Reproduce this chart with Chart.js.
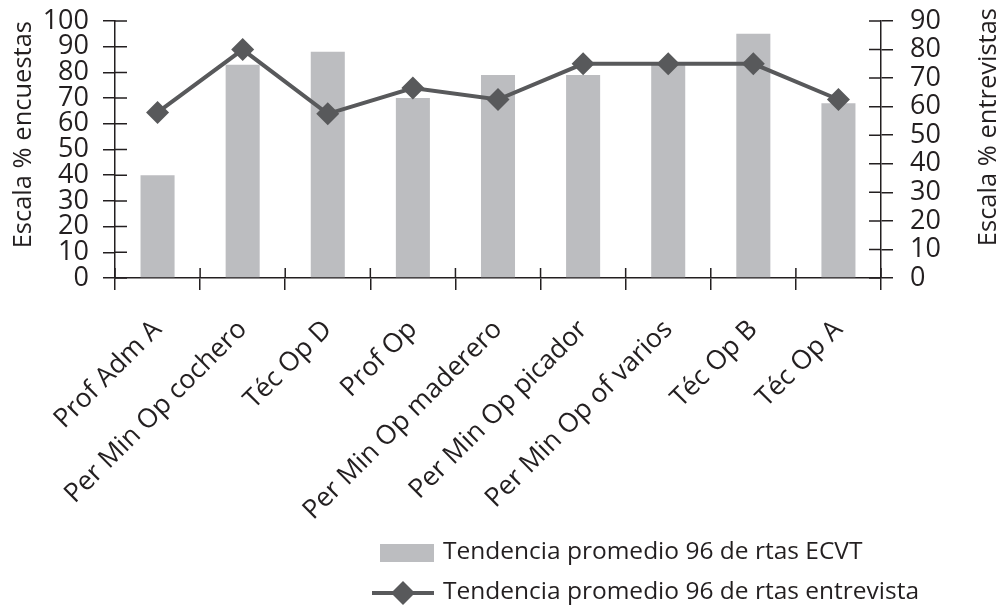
<!DOCTYPE html>
<html>
<head>
<meta charset="utf-8">
<script src="https://cdn.jsdelivr.net/npm/chart.js@4.4.1/dist/chart.umd.min.js"></script>
<style>
  html, body { margin: 0; padding: 0; background: #fff; }
</style>
</head>
<body>
<canvas id="grafico-tendencia" width="1005" height="608"></canvas>
<script>
// Datos
const categorias = ['Prof Adm A', 'Per Min Op cochero', 'Téc Op D', 'Prof Op',
    'Per Min Op maderero', 'Per Min Op picador', 'Per Min Op of varios', 'Téc Op B', 'Téc Op A'];
const rtasECVT = [40, 83, 88, 70, 79, 79, 83, 95, 68];          // escala % encuestas
const rtasEntrevista = [58, 80, 57.5, 66.5, 62.5, 75, 75, 75, 62.5]; // escala % entrevistas
const escalaEncuestas = { min: 0, max: 100, paso: 10 };
const escalaEntrevistas = { min: 0, max: 90, paso: 10 };

const colorBarra = '#BCBDC0';
const colorLinea = '#58595B';
const colorEje = '#231F20';
const fuente = "'Open Sans', sans-serif";

Chart.defaults.font.family = fuente;
Chart.defaults.color = colorEje;

// sin relleno extra por las etiquetas: el área queda donde se fija
function fijarAncho(ancho) {
    return scale => {
        scale.width = ancho;
        scale.paddingTop = 0;
        scale.paddingBottom = 0;
    };
}

// Marcas de los ejes que cruzan hacia dentro del área
const marcasInternas = {
    id: 'marcasInternas',
    afterDraw(chart) {
        const ctx = chart.ctx;
        const { x, y, y1 } = chart.scales;
        ctx.save();
        ctx.strokeStyle = colorEje;
        ctx.lineWidth = 1.5;
        ctx.beginPath();
        y.ticks.forEach(t => {
            const py = y.getPixelForValue(t.value);
            ctx.moveTo(y.right, py);
            ctx.lineTo(y.right + 12, py);
        });
        y1.ticks.forEach(t => {
            const py = y1.getPixelForValue(t.value);
            ctx.moveTo(y1.left, py);
            ctx.lineTo(y1.left - 12, py);
        });
        for (let i = 0; i <= categorias.length; i++) {
            const px = x.getPixelForValue(i - 0.5);
            ctx.moveTo(px, x.top);
            ctx.lineTo(px, x.top - 10);
        }
        ctx.stroke();

        // título del eje derecho (se lee de abajo hacia arriba)
        ctx.fillStyle = colorEje;
        ctx.font = '25.5px ' + fuente;
        ctx.textAlign = 'right';
        ctx.textBaseline = 'middle';
        ctx.translate(989, 8);
        ctx.rotate(-Math.PI / 2);
        ctx.fillText('Escala % entrevistas', 0, 0);
        ctx.restore();
    }
};

// Leyenda alineada a la izquierda, una serie por fila
const leyenda = {
    id: 'leyenda',
    afterDraw(chart) {
        const ctx = chart.ctx;
        const [barras, linea] = chart.data.datasets;
        ctx.save();
        ctx.font = '24.5px ' + fuente;
        ctx.textBaseline = 'middle';

        ctx.fillStyle = barras.backgroundColor;
        ctx.fillRect(380, 544, 54, 18);
        ctx.fillStyle = colorEje;
        ctx.fillText(barras.label, 443, 552);

        ctx.strokeStyle = linea.borderColor;
        ctx.lineWidth = 4;
        ctx.beginPath();
        ctx.moveTo(372, 593);
        ctx.lineTo(434, 593);
        ctx.stroke();
        ctx.fillStyle = linea.borderColor;
        ctx.beginPath();
        ctx.moveTo(403, 581);
        ctx.lineTo(415, 593);
        ctx.lineTo(403, 605);
        ctx.lineTo(391, 593);
        ctx.closePath();
        ctx.fill();
        ctx.fillStyle = colorEje;
        ctx.fillText(linea.label, 443, 592);
        ctx.restore();
    }
};

const ctx = document.getElementById('grafico-tendencia').getContext('2d');
new Chart(ctx, {
    type: 'bar',
    data: {
        labels: categorias,
        datasets: [
            {
                label: 'Tendencia promedio 96 de rtas ECVT',
                data: rtasECVT,
                yAxisID: 'y',
                backgroundColor: colorBarra,
                categoryPercentage: 1,
                barPercentage: 0.4,
                order: 2
            },
            {
                type: 'line',
                label: 'Tendencia promedio 96 de rtas entrevista',
                data: rtasEntrevista,
                yAxisID: 'y1',
                borderColor: colorLinea,
                backgroundColor: colorLinea,
                borderWidth: 4,
                pointStyle: 'rectRot',
                pointRadius: 11.5,
                pointBackgroundColor: colorLinea,
                pointBorderColor: colorLinea,
                pointBorderWidth: 0,
                tension: 0,
                order: 1
            }
        ]
    },
    options: {
        responsive: false,
        animation: false,
        layout: { padding: { top: 21, left: 0, right: 0, bottom: 0 } },
        plugins: {
            legend: { display: false },
            tooltip: { enabled: false }
        },
        scales: {
            x: {
                offset: true,
                grid: { offset: true, drawOnChartArea: false, tickLength: 12, color: colorEje, lineWidth: 1.5 },
                border: { color: colorEje, width: 1.5 },
                ticks: { font: { size: 26.5 }, color: colorEje, autoSkip: false, minRotation: 45, maxRotation: 45, padding: 24 },
                afterFit(scale) { scale.height = 330; scale.paddingLeft = 0; scale.paddingRight = 0; }
            },
            y: {
                position: 'left',
                min: escalaEncuestas.min,
                max: escalaEncuestas.max,
                ticks: { stepSize: escalaEncuestas.paso, autoSkip: false, font: { size: 27 }, color: colorEje, padding: 14 },
                grid: { drawOnChartArea: false, tickLength: 12, color: colorEje, lineWidth: 1.5 },
                border: { color: colorEje, width: 1.5 },
                title: {
                    display: true, text: 'Escala % encuestas', align: 'end',
                    font: { size: 25.5 }, color: colorEje, padding: { top: 8, bottom: 0 }
                },
                afterFit: fijarAncho(115)
            },
            y1: {
                position: 'right',
                min: escalaEntrevistas.min,
                max: escalaEntrevistas.max,
                ticks: { stepSize: escalaEntrevistas.paso, autoSkip: false, font: { size: 27 }, color: colorEje, padding: 17 },
                grid: { drawOnChartArea: false, tickLength: 12, color: colorEje, lineWidth: 1.5 },
                border: { color: colorEje, width: 1.5 },
                afterFit: fijarAncho(124)
            }
        }
    },
    plugins: [marcasInternas, leyenda]
});
</script>
</body>
</html>
